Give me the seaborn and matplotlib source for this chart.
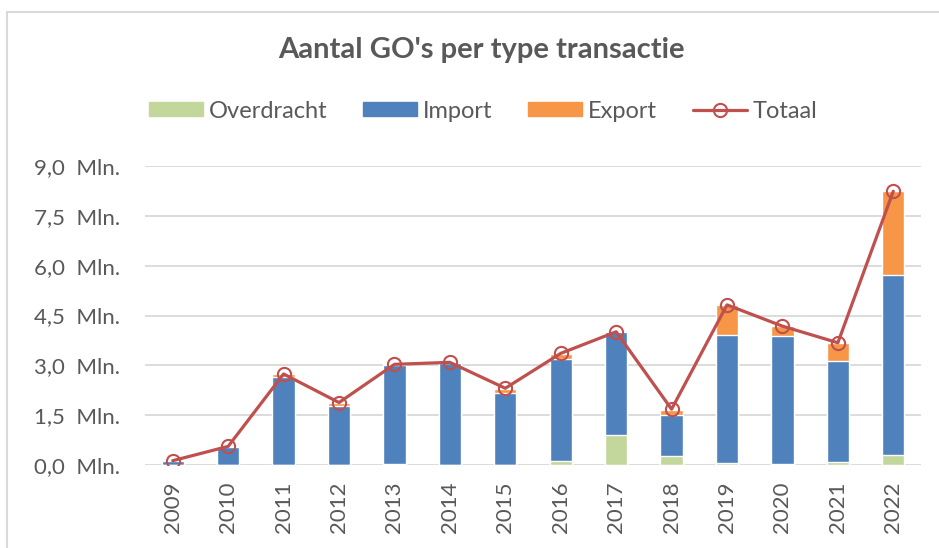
import numpy as np
import pandas as pd
import matplotlib
matplotlib.use("Agg")
import matplotlib.pyplot as plt
from matplotlib.lines import Line2D
from matplotlib.patches import Patch
import seaborn as sns

# --- data (in millions) ---
years = ["2009", "2010", "2011", "2012", "2013", "2014", "2015",
         "2016", "2017", "2018", "2019", "2020", "2021", "2022"]
overdracht = [0.00, 0.00, 0.01, 0.01, 0.03, 0.01, 0.01,
              0.12, 0.89, 0.27, 0.06, 0.04, 0.08, 0.30]
import_ = [0.12, 0.55, 2.63, 1.77, 2.98, 3.06, 2.17,
           3.07, 3.11, 1.24, 3.86, 3.85, 3.06, 5.42]
export = [0.01, 0.01, 0.10, 0.10, 0.02, 0.02, 0.12,
          0.16, 0.01, 0.16, 0.90, 0.28, 0.54, 2.52]
totaal = [0.13, 0.56, 2.74, 1.88, 3.03, 3.09, 2.31,
          3.36, 4.01, 1.68, 4.82, 4.18, 3.68, 8.24]
yticks = [0.0, 1.5, 3.0, 4.5, 6.0, 7.5, 9.0]

df = pd.DataFrame({"jaar": years, "Overdracht": overdracht,
                   "Import": import_, "Export": export, "Totaal": totaal})
df["top_import"] = df["Overdracht"] + df["Import"]
df["top_export"] = df["top_import"] + df["Export"]

c_green = "#C3D69B"
c_blue = "#4F81BD"
c_orange = "#F79646"
c_red = "#C0504D"
c_text = "#595959"
c_grid = "#D9D9D9"

sns.set_style("white")
plt.rcParams["font.family"] = ["Lato", "DejaVu Sans"]

fig = plt.figure(figsize=(9.39, 5.48), dpi=100)
ax = fig.add_axes([145 / 939, 1 - 465 / 548, 776 / 939, 299 / 548])

# stacked bars: draw cumulative heights from the top down
sns.barplot(data=df, x="jaar", y="top_export", color=c_orange, width=0.4,
            saturation=1, ax=ax)
sns.barplot(data=df, x="jaar", y="top_import", color=c_blue, width=0.4,
            saturation=1, ax=ax)
sns.barplot(data=df, x="jaar", y="Overdracht", color=c_green, width=0.4,
            saturation=1, ax=ax)

sns.lineplot(x=np.arange(len(years)), y=df["Totaal"], color=c_red,
             linewidth=2.3, marker="o", markersize=9.5, markerfacecolor="none",
             markeredgecolor=c_red, markeredgewidth=1.5, ax=ax, zorder=5)

ax.set_ylim(0, 9)
ax.set_xlim(-0.5, len(years) - 0.5)
ax.set_yticks(yticks)
ax.set_yticklabels([f"{v:.1f}".replace(".", ",") + "  Mln." for v in yticks])
ax.yaxis.grid(True, color=c_grid, linewidth=1.3)
ax.set_axisbelow(True)
for s in ax.spines.values():
    s.set_visible(False)
ax.tick_params(axis="y", length=0, pad=18, labelsize=16, labelcolor=c_text)
ax.tick_params(axis="x", length=0, pad=12, labelsize=16, labelcolor=c_text,
               labelrotation=90)
ax.set_xlabel("")
ax.set_ylabel("")

fig.text(481 / 939, 1 - 50 / 548, "Aantal GO's per type transactie",
         ha="center", va="center", fontsize=21, fontweight="bold",
         color=c_text)

handles = [Patch(color=c_green), Patch(color=c_blue), Patch(color=c_orange),
           Line2D([], [], color=c_red, linewidth=2.3, marker="o",
                  markersize=9.5, markerfacecolor="none", markeredgewidth=1.5)]
fig.legend(handles, ["Overdracht", "Import", "Export", "Totaal"], ncol=4,
           loc="center", bbox_to_anchor=(483 / 939, 1 - 111 / 548),
           frameon=False, fontsize=17, labelcolor=c_text,
           handlelength=2.3, handleheight=0.55, handletextpad=0.25,
           columnspacing=1.5)

# light chart border like the spreadsheet chart area
fig.add_artist(Line2D([7 / 939, 7 / 939], [0, 1 - 12 / 548],
                      transform=fig.transFigure, color=c_grid, linewidth=1.5))
fig.add_artist(Line2D([7 / 939, 1], [1 - 12 / 548, 1 - 12 / 548],
                      transform=fig.transFigure, color=c_grid, linewidth=1.5))

fig.savefig("out.png", dpi=100)
